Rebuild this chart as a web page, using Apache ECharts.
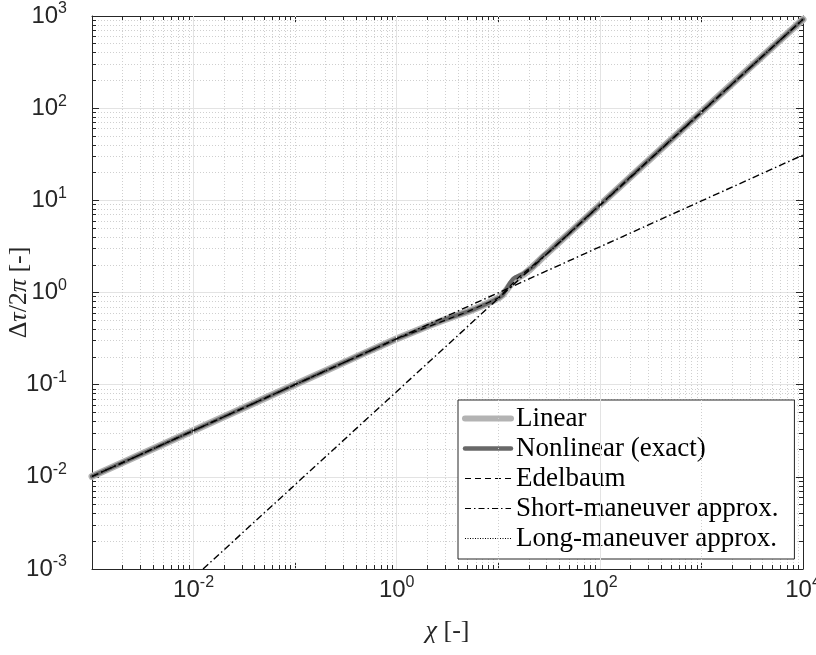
<!DOCTYPE html>
<html>
<head>
<meta charset="utf-8">
<script src="https://cdn.jsdelivr.net/npm/echarts@6/dist/echarts.min.js"></script>
<style>
html,body{margin:0;padding:0;background:#fff;}
#chart{width:816px;height:655px;}
</style>
</head>
<body>
<div id="chart"></div>
<script>
// ---- data ----
var chi        = [0.001, 0.01, 0.1, 0.5, 1, 2, 3, 4, 5, 6, 7, 8, 9, 10, 11, 12, 13, 14, 15, 16, 17, 18, 20, 22, 25, 28, 32, 36, 40, 50, 70, 100, 300, 1000, 3000, 10000];
var linearVals = [0.0101, 0.0318, 0.1005, 0.224, 0.315, 0.43, 0.51, 0.57, 0.62, 0.67, 0.72, 0.77, 0.82, 0.87, 0.94, 1.06, 1.20, 1.32, 1.40, 1.47, 1.53, 1.59, 1.74, 1.92, 2.19, 2.47, 2.82, 3.18, 3.54, 4.42, 6.2, 8.9, 27, 91, 275, 920];
var nonlinVals = [0.0101, 0.0318, 0.1005, 0.224, 0.315, 0.43, 0.51, 0.57, 0.62, 0.67, 0.72, 0.77, 0.82, 0.87, 0.93, 1.09, 1.27, 1.41, 1.48, 1.52, 1.56, 1.62, 1.77, 1.90, 2.22, 2.53, 2.84, 3.16, 3.56, 4.42, 6.2, 8.9, 27, 91, 275, 920];
var edelChi    = [0.001, 0.01, 0.1, 1, 5, 10, 16, 30, 100, 1000, 10000];
var edelVals   = [0.0101, 0.0318, 0.1005, 0.315, 0.62, 0.87, 1.47, 2.62, 8.9, 91, 920];
var shortChi   = [0.001, 10000];
var shortVals  = [0.0101, 31.0];
var longChi    = [0.0124, 10000];
var longVals   = [0.001, 924];
var xGridMajor = [0.01, 1, 100];
var xGridOdd   = [0.1, 10, 1000];
var seriesNames = ['Linear', 'Nonlinear (exact)', 'Edelbaum', 'Short-maneuver approx.', 'Long-maneuver approx.'];

function pairs(xs, ys) { return xs.map(function (x, i) { return [x, ys[i]]; }); }

var axisColor = '#262626';
var clear = 'rgba(0,0,0,0)';
var tickRich = {
  b: {fontFamily: 'Liberation Sans', fontSize: 24, color: axisColor, lineHeight: 24, verticalAlign: 'bottom'},
  s: {fontFamily: 'Liberation Sans', fontSize: 16, color: axisColor, lineHeight: 16, padding: [0, 0, 11, 0], verticalAlign: 'bottom'}
};
var nameRich = {
  i: {fontFamily: 'Liberation Serif', fontStyle: 'italic', fontSize: 26, color: axisColor},
  u: {fontFamily: 'Liberation Serif', fontSize: 26, color: axisColor}
};
function expLabel(v) {
  var e = Math.round(Math.log10(v));
  return '{b|10}{s|' + e + '}';
}

function baseAxis(extra) {
  var a = {
    type: 'log', logBase: 10,
    axisLine: {show: true, onZero: false, lineStyle: {color: axisColor, width: 1}},
    axisTick: {show: true, inside: true, length: 7, lineStyle: {color: axisColor, width: 1}},
    minorTick: {show: true, splitNumber: 9, length: 4, lineStyle: {color: axisColor, width: 1}},
    splitLine: {show: false},
    minorSplitLine: {show: false},
    axisLabel: {show: false}
  };
  for (var k in extra) a[k] = extra[k];
  return a;
}

var chart = echarts.init(document.getElementById('chart'), null, {renderer: 'canvas'});

var option = {
  animation: false,
  backgroundColor: '#ffffff',
  grid: {left: 92, right: 13, top: 16, bottom: 86, containLabel: false, outerBoundsMode: 'none'},
  xAxis: [
    baseAxis({
      position: 'bottom', min: 0.001, max: 10000, splitNumber: 7,
      minorSplitLine: {show: true, lineStyle: {color: '#cfcfcf', width: 1, type: [1, 2]}},
      axisLabel: {
        show: true, margin: 9, rich: tickRich, showMinLabel: false, hideOverlap: false,
        formatter: function (v) {
          var e = Math.round(Math.log10(v));
          return (e % 2 === 0) ? expLabel(v) : '';
        }
      },
      name: '{i|χ}{u| [-]}', nameLocation: 'middle', nameGap: 49, nameMoveOverlap: false,
      nameTextStyle: {rich: nameRich}
    }),
    baseAxis({position: 'top', min: 0.001, max: 10000, splitNumber: 7})
  ],
  yAxis: [
    baseAxis({
      position: 'left', min: 0.001, max: 1000, splitNumber: 6,
      splitLine: {show: true, lineStyle: {color: '#e3e3e3', width: 1}},
      minorSplitLine: {show: true, lineStyle: {color: '#cfcfcf', width: 1, type: [1, 2]}},
      axisLabel: {show: true, margin: 25, rich: tickRich, formatter: expLabel, hideOverlap: false,
                  alignMinLabel: 'right', alignMaxLabel: 'right'},
      name: '{u|Δ}{i|τ}{u|/2}{i|π}{u| [-]}', nameLocation: 'middle', nameGap: 60, nameRotate: 90,
      nameMoveOverlap: false,
      nameTextStyle: {rich: nameRich}
    }),
    baseAxis({position: 'right', min: 0.001, max: 1000, splitNumber: 6})
  ],
  legend: {
    orient: 'vertical',
    left: 458, top: 400,
    padding: [5, 16, 7, 4],
    itemGap: 3,
    itemWidth: 46, itemHeight: 14,
    backgroundColor: '#ffffff',
    borderColor: axisColor, borderWidth: 1, borderRadius: 0,
    itemStyle: {color: clear, borderWidth: 0, opacity: 0},
    textStyle: {fontFamily: 'Liberation Serif', fontSize: 27, color: '#000000'},
    data: [
      {name: seriesNames[0], lineStyle: {width: 6, color: '#b3b3b3'}},
      {name: seriesNames[1], lineStyle: {width: 4.5, color: '#686868'}},
      {name: seriesNames[2], lineStyle: {width: 1.2, color: '#000', type: [6, 4]}},
      {name: seriesNames[3], lineStyle: {width: 1.2, color: '#000', type: [6, 3, 1.5, 3]}},
      {name: seriesNames[4], lineStyle: {width: 1, color: '#000', type: [1, 1.5]}}
    ]
  },
  series: [
    {
      name: 'grid', type: 'line', data: [], z: 1, silent: true,
      xAxisIndex: 0, yAxisIndex: 0,
      markLine: {
        silent: true, symbol: ['none', 'none'], label: {show: false}, animation: false,
        data: xGridMajor.map(function (v) { return {xAxis: v, lineStyle: {color: '#e3e3e3', width: 1, type: 'solid'}}; })
          .concat(xGridOdd.map(function (v) { return {xAxis: v, lineStyle: {color: '#cfcfcf', width: 1, type: [1, 2]}}; }))
      }
    },
    {
      name: seriesNames[0], type: 'line', symbol: 'none', z: 3,
      data: pairs(chi, linearVals),
      lineStyle: {color: '#b3b3b3', width: 7, cap: 'round', join: 'round'},
      itemStyle: {color: clear, borderWidth: 0}
    },
    {
      name: seriesNames[1], type: 'line', symbol: 'none', z: 4,
      data: pairs(chi, nonlinVals),
      lineStyle: {color: '#686868', width: 4, cap: 'round', join: 'round'},
      itemStyle: {color: clear, borderWidth: 0}
    },
    {
      name: seriesNames[2], type: 'line', symbol: 'none', z: 5,
      data: pairs(edelChi, edelVals),
      lineStyle: {color: '#000000', width: 1.2, type: [6, 4]},
      itemStyle: {color: clear, borderWidth: 0}
    },
    {
      name: seriesNames[3], type: 'line', symbol: 'none', z: 6,
      data: pairs(shortChi, shortVals),
      lineStyle: {color: '#000000', width: 1.4, type: [7, 3, 1.5, 3]},
      itemStyle: {color: clear, borderWidth: 0}
    },
    {
      name: seriesNames[4], type: 'line', symbol: 'none', z: 6,
      data: pairs(longChi, longVals),
      lineStyle: {color: '#000000', width: 1.4, type: [7, 3, 1.5, 3]},
      itemStyle: {color: clear, borderWidth: 0}
    }
  ]
};
chart.setOption(option);
</script>
</body>
</html>
